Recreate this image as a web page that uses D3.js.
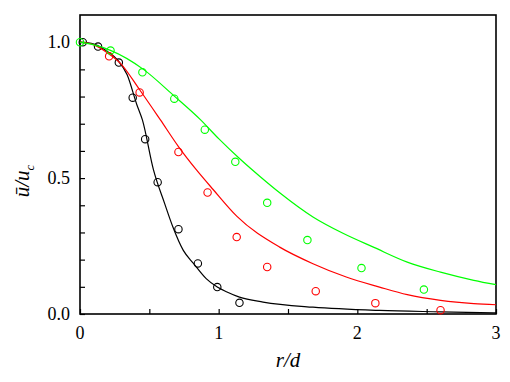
<!DOCTYPE html>
<html>
<head>
<meta charset="utf-8">
<script src="https://cdn.jsdelivr.net/npm/d3@7"></script>
<style>
  body { margin: 0; background: #fff; }
  svg { display: block; }
  svg text { font-family: "Liberation Serif", "DejaVu Serif", "Noto Serif", Times, serif; }
</style>
</head>
<body>
<div id="chart"></div>
<script>
// measured points (open circles)
const blackPtsX = [0.02, 0.13, 0.28, 0.38, 0.47, 0.56, 0.71, 0.85, 0.99, 1.15];
const blackPtsY = [1.0, 0.984, 0.925, 0.796, 0.643, 0.485, 0.312, 0.186, 0.099, 0.041];
const redPtsX = [0.21, 0.43, 0.71, 0.92, 1.13, 1.35, 1.70, 2.13, 2.60];
const redPtsY = [0.948, 0.815, 0.596, 0.447, 0.283, 0.173, 0.084, 0.040, 0.014];
const greenPtsX = [0.0, 0.22, 0.45, 0.68, 0.90, 1.12, 1.35, 1.64, 2.03, 2.48];
const greenPtsY = [1.0, 0.969, 0.889, 0.792, 0.678, 0.560, 0.409, 0.272, 0.169, 0.090];

// fitted curves
const blackLineX = [0, 0.1, 0.2, 0.27, 0.34, 0.41, 0.45, 0.53, 0.61, 0.67, 0.745, 0.82, 0.91, 0.99, 1.06, 1.15, 1.32, 1.68, 2.16, 2.6, 3.0];
const blackLineY = [1.0, 0.993, 0.965, 0.935, 0.88, 0.77, 0.714, 0.53, 0.407, 0.32, 0.234, 0.185, 0.13, 0.099, 0.081, 0.062, 0.044, 0.025, 0.013, 0.008, 0.004];
const redLineX = [0, 0.1, 0.2, 0.29, 0.43, 0.58, 0.71, 0.84, 0.96, 1.13, 1.44, 1.68, 1.92, 2.16, 2.36, 2.6, 2.84, 3.0];
const redLineY = [1.0, 0.99, 0.96, 0.923, 0.825, 0.714, 0.616, 0.53, 0.458, 0.36, 0.246, 0.185, 0.136, 0.099, 0.071, 0.05, 0.038, 0.034];
const greenLineX = [0, 0.1, 0.22, 0.46, 0.67, 0.87, 1.0, 1.15, 1.3, 1.44, 1.68, 1.9, 2.12, 2.36, 2.6, 2.84, 3.0];
const greenLineY = [1.0, 0.99, 0.97, 0.899, 0.806, 0.714, 0.645, 0.572, 0.505, 0.446, 0.357, 0.296, 0.245, 0.191, 0.154, 0.124, 0.108];

const xTicks = [0, 0.5, 1, 1.5, 2, 2.5, 3];
const xLabels = [0, 1, 2, 3];
const yTicks = [0, 0.1, 0.2, 0.3, 0.4, 0.5, 0.6, 0.7, 0.8, 0.9, 1.0];
const yLabels = [0, 0.5, 1.0];

const width = 510, height = 382;
const margin = {top: 15, right: 14, bottom: 68, left: 80};
const innerWidth = width - margin.left - margin.right;
const innerHeight = height - margin.top - margin.bottom;

const x = d3.scaleLinear().domain([0, 3]).range([0, innerWidth]);
const y = d3.scaleLinear().domain([0, 1.1]).range([innerHeight, 0]);

const svg = d3.select("#chart").append("svg")
  .attr("width", width)
  .attr("height", height);

const g = svg.append("g")
  .attr("transform", `translate(${margin.left}, ${margin.top})`);

// tick marks (inward), no labels
g.append("g")
  .attr("transform", `translate(0, ${innerHeight})`)
  .call(d3.axisBottom(x).tickValues(xTicks).tickSize(-5).tickFormat(""))
  .call(a => a.select(".domain").remove())
  .call(a => a.selectAll("text").remove());

g.append("g")
  .call(d3.axisLeft(y).tickValues(yTicks).tickSize(-5).tickFormat(""))
  .call(a => a.select(".domain").remove())
  .call(a => a.selectAll("text").remove());

g.selectAll(".tick line").attr("stroke", "#000").attr("stroke-width", 1.2);

// tick labels
g.selectAll("text.xlab")
  .data(xLabels)
  .join("text")
  .attr("class", "xlab")
  .attr("x", d => x(d))
  .attr("y", innerHeight + 25)
  .attr("text-anchor", "middle")
  .attr("font-size", 18)
  .text(d => d3.format("d")(d));

g.selectAll("text.ylab")
  .data(yLabels)
  .join("text")
  .attr("class", "ylab")
  .attr("x", -10)
  .attr("y", d => y(d))
  .attr("dy", "0.35em")
  .attr("text-anchor", "end")
  .attr("font-size", 18)
  .text(d => d3.format(".1f")(d));

// frame
g.append("rect")
  .attr("x", 0).attr("y", 0)
  .attr("width", innerWidth).attr("height", innerHeight)
  .attr("fill", "none")
  .attr("stroke", "#000")
  .attr("stroke-width", 1.6);

const series = [
  {color: "#000000", lx: blackLineX, ly: blackLineY, px: blackPtsX, py: blackPtsY},
  {color: "#ff0000", lx: redLineX, ly: redLineY, px: redPtsX, py: redPtsY},
  {color: "#00ff00", lx: greenLineX, ly: greenLineY, px: greenPtsX, py: greenPtsY}
];

const line = d3.line()
  .x(d => x(d[0]))
  .y(d => y(d[1]))
  .curve(d3.curveMonotoneX);

series.forEach(s => {
  g.append("path")
    .datum(d3.zip(s.lx, s.ly))
    .attr("d", line)
    .attr("fill", "none")
    .attr("stroke", s.color)
    .attr("stroke-width", 1.2);

  g.selectAll(null)
    .data(d3.zip(s.px, s.py))
    .join("circle")
    .attr("cx", d => x(d[0]))
    .attr("cy", d => y(d[1]))
    .attr("r", 3.7)
    .attr("fill", "none")
    .attr("stroke", s.color)
    .attr("stroke-width", 1.1);
});

// axis titles
svg.append("text")
  .attr("x", margin.left + innerWidth / 2)
  .attr("y", 367)
  .attr("text-anchor", "middle")
  .attr("font-style", "italic")
  .attr("font-size", 21)
  .text("r/d");

const yt = svg.append("text")
  .attr("transform", `translate(29, 181) rotate(-90)`)
  .attr("text-anchor", "middle")
  .attr("font-style", "italic")
  .attr("font-size", 21);
yt.append("tspan").text("\u016B/u");
yt.append("tspan").attr("dy", 5).attr("font-size", 13).text("c");
</script>
</body>
</html>
